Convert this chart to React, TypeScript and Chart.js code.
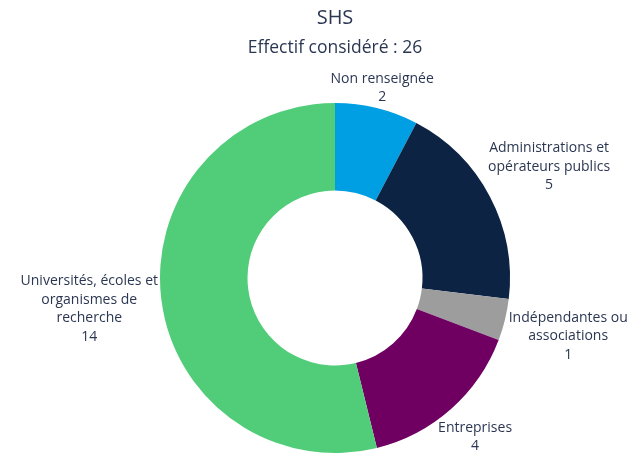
import React, { useEffect, useRef } from "react";
import { Chart, registerables } from "chart.js";

Chart.register(...registerables);

const TITLE = "SHS";
const SUBTITLE = "Effectif considéré : 26";
const categories = [
  "Non renseignée",
  "Administrations et\nopérateurs publics",
  "Indépendantes ou\nassociations",
  "Entreprises",
  "Universités, écoles et\norganismes de\nrecherche",
];
const values = [2, 5, 1, 4, 14];
const colors = ["#009fe3", "#0c2344", "#9d9d9d", "#6f0062", "#51cd79"];

const FONT = "'Open Sans', sans-serif";
const TEXT = "#2b3752";
const LH = 18.5;
const PAD = 2;

const outerLabels = {
  id: "outerLabels",
  afterDatasetsDraw(chart: any) {
    const ctx = chart.ctx as CanvasRenderingContext2D;
    const area = chart.chartArea;
    const meta = chart.getDatasetMeta(0);
    ctx.save();
    ctx.fillStyle = TEXT;
    ctx.textAlign = "center";
    ctx.textBaseline = "alphabetic";
    const cx0 = (area.left + area.right) / 2;
    ctx.font = `20px ${FONT}`;
    ctx.fillText(TITLE, cx0, 24);
    ctx.font = `17.5px ${FONT}`;
    ctx.fillText(SUBTITLE, cx0, 53);

    ctx.font = `14px ${FONT}`;
    meta.data.forEach((arc: any, i: number) => {
      const p = arc.getProps(["x", "y", "startAngle", "endAngle", "outerRadius"], true);
      const mid = (p.startAngle + p.endAngle) / 2;
      const dx = Math.cos(mid);
      const dy = Math.sin(mid);
      const lines = [...categories[i].split("\n"), String(values[i])];
      const w = Math.max(...lines.map((l) => ctx.measureText(l).width));
      const h = (lines.length - 1) * LH + 10;
      const target = p.outerRadius + PAD;
      let lo = 0;
      let hi = p.outerRadius + 500;
      for (let k = 0; k < 50; k++) {
        const t = (lo + hi) / 2;
        const nx = Math.max(Math.abs(dx * t) - w / 2, 0);
        const ny = Math.max(Math.abs(dy * t) - h / 2, 0);
        if (Math.hypot(nx, ny) < target) lo = t;
        else hi = t;
      }
      const cx = p.x + dx * hi;
      const cy = p.y + dy * hi;
      lines.forEach((l, j) => {
        ctx.fillText(l, cx, cy - ((lines.length - 1) * LH) / 2 + j * LH + 5);
      });
    });
    ctx.restore();
  },
};

export default function App() {
  const ref = useRef<HTMLCanvasElement>(null);
  useEffect(() => {
    if (!ref.current) return;
    const chart = new Chart(ref.current, {
      type: "doughnut",
      data: {
        labels: categories.map((c) => c.replace(/\n/g, " ")),
        datasets: [
          {
            data: values,
            backgroundColor: colors,
            borderWidth: 0,
            hoverOffset: 0,
          },
        ],
      },
      options: {
        responsive: false,
        animation: false,
        cutout: "50%",
        layout: { padding: { top: 103, bottom: 4, left: 27, right: 0 } },
        plugins: {
          legend: { display: false },
          tooltip: { enabled: false },
          title: { display: false },
        },
      },
      plugins: [outerLabels],
    });
    return () => chart.destroy();
  }, []);
  return (
    <div style={{ position: "absolute", left: 0, top: 0, width: 643, height: 457, background: "#fff" }}>
      <canvas ref={ref} width={643} height={457} />
    </div>
  );
}
